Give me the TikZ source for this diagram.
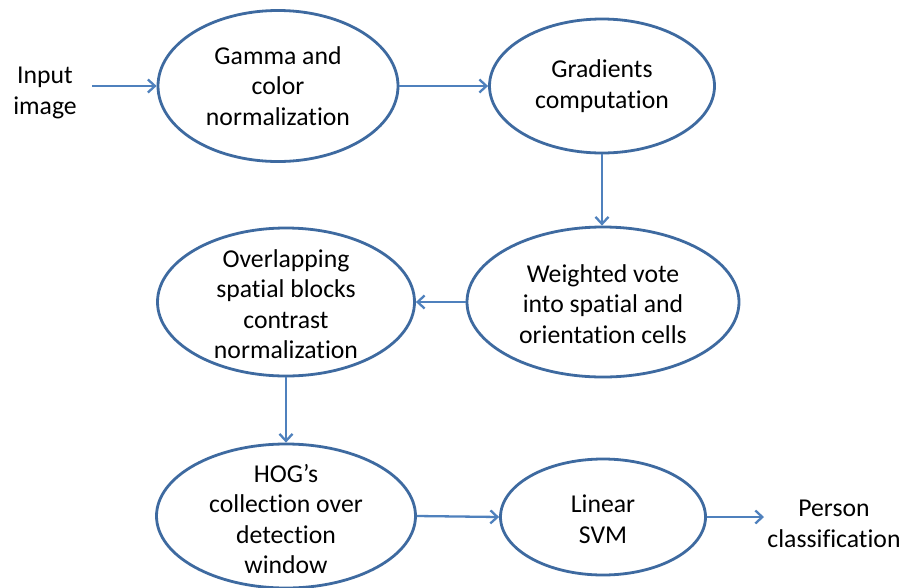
\documentclass[tikz,border=0pt]{standalone}
\usepackage{fontspec}
\setmainfont[Ligatures=NoCommon]{Carlito}
\usetikzlibrary{shapes.geometric,arrows.meta}
\definecolor{ellcol}{RGB}{62,106,160}
\definecolor{arrcol}{RGB}{79,129,189}
\begin{document}
\begin{tikzpicture}[x=1pt,y=-1pt,
  oval/.style={ellipse,draw=ellcol,line width=2.8pt,inner sep=0pt,fill=white},
  txt/.style={align=center,font=\fontsize{25.7}{30.5}\selectfont,text=black,inner sep=0pt},
  flow/.style={draw=arrcol,line width=2.3pt,-{Straight Barb[length=7pt,width=13pt,line width=2.3pt]}}]
\useasboundingbox[fill=white] (0,0) rectangle (902,587);
% ellipses
\node[oval,minimum width=240pt,minimum height=151pt] (e1) at (278,86) {};
\node[oval,minimum width=225pt,minimum height=134pt] (e2) at (602,86) {};
\node[oval,minimum width=272pt,minimum height=150pt] (e3) at (603,302) {};
\node[oval,minimum width=257pt,minimum height=148pt] (e4) at (286,302) {};
\node[oval,minimum width=259pt,minimum height=144pt] (e5) at (286,516) {};
\node[oval,minimum width=205pt,minimum height=116pt] (e6) at (603,517) {};
% texts
\node[txt] (t1) at (e1.center) {Gamma and\\color\\normalization};
\node[txt] (t2) at (e2.center) {Gradients\\computation};
\node[txt] (t3) at (603,304) {Weighted vote\\into spatial and\\orientation cells};
\node[txt] (t4) at (286,304) {Overlapping\\spatial blocks\\contrast\\normalization};
\node[txt] (t5) at (286,519) {HOG’s\\collection over\\detection\\window};
\node[txt] (t6) at (603,519) {Linear\\SVM};
\node[txt] (in) at (45,93) {Input\\image};
\node[txt] (out) at (834,524) {Person\\classification};
% connectors
\coordinate (inS) at (92,86);
\coordinate (outE) at (764,517);
\draw[flow] (inS) -- (e1.west);
\draw[flow] (e1.east) -- (e2.west);
\draw[flow] (e2.south) -- (e2.south |- e3.north);
\draw[flow] (e3.west) -- (e4.east |- e3.west);
\draw[flow] (e4.south) -- (e5.north);
\draw[flow] (e5.east) -- (e6.west);
\draw[flow] (e6.east) -- (outE);
\end{tikzpicture}
\end{document}
